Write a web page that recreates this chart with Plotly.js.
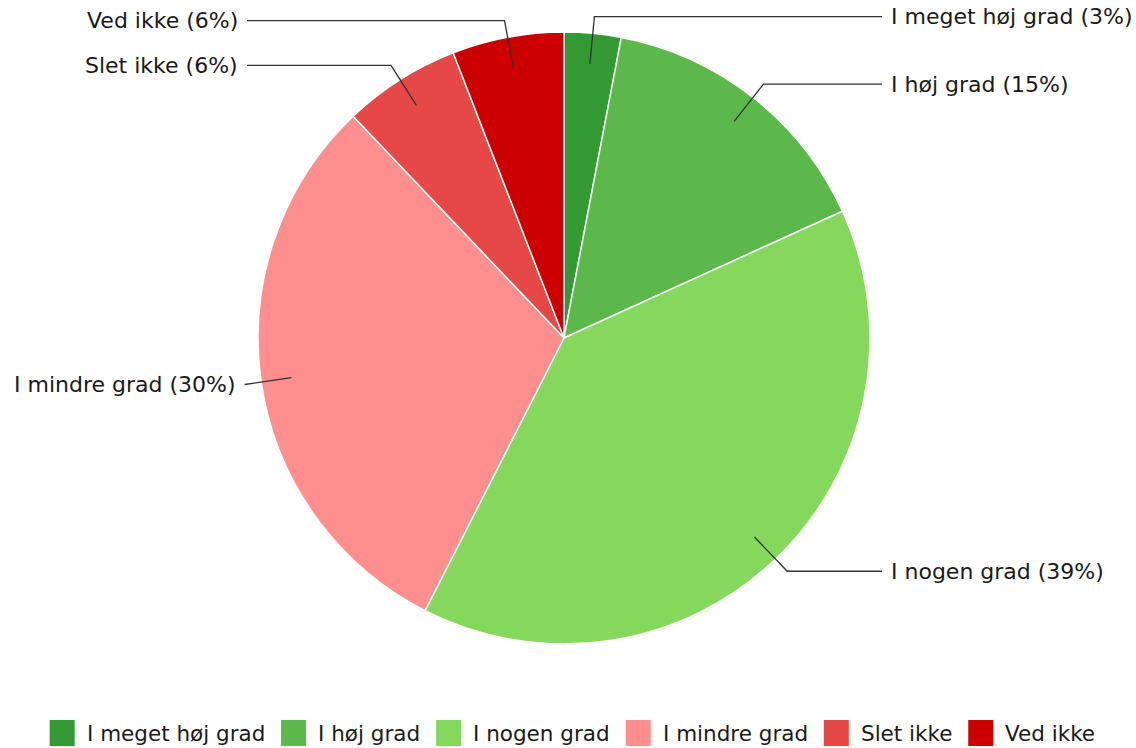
<!DOCTYPE html>
<html>
<head>
<meta charset="utf-8">
<script src="https://cdn.plot.ly/plotly-3.0.1.min.js"></script>
<style>
html,body{margin:0;padding:0;background:#fff;}
#chart{width:1136px;height:748px;}
</style>
</head>
<body>
<div id="chart"></div>
<script>
const categories = ["I meget høj grad", "I høj grad", "I nogen grad", "I mindre grad", "Slet ikke", "Ved ikke"];
const values = [3.0, 15.2, 39.3, 30.4, 6.2, 5.9];
const colors = ["#339933", "#5cb84a", "#84d95d", "#ff8f8f", "#e64848", "#cc0000"];

const W = 1136, H = 748;
const cx = 564, cy = 338, R = 306;
const FONT = "DejaVu Sans, Verdana, sans-serif";
const FS_LABEL = 22;
const FS = 21.5;

const px = x => x / W;
const py = y => 1 - y / H;

const total = values.reduce((a, b) => a + b, 0);

const trace = {
  type: "pie",
  labels: categories,
  values: values,
  marker: {colors: colors, line: {color: "#ffffff", width: 1.5}},
  sort: false,
  direction: "clockwise",
  rotation: 0,
  textinfo: "none",
  hoverinfo: "label+percent",
  showlegend: false,
  domain: {x: [px(cx - R), px(cx + R)], y: [py(cy + R), py(cy - R)]}
};

const shapes = [];
const annotations = [];
let cum = 0;
values.forEach((v, i) => {
  const frac = v / total;
  const mid = (cum + frac / 2) * 2 * Math.PI;
  cum += frac;
  const sx = cx + 0.9 * R * Math.sin(mid), sy = cy - 0.9 * R * Math.cos(mid);
  const ex = cx + 1.055 * R * Math.sin(mid), ey = cy - 1.055 * R * Math.cos(mid);
  const right = Math.sin(mid) >= 0;
  const endX = right ? Math.max(882, ex) : Math.min(247, ex);
  const path = `M${px(sx)},${py(sy)} L${px(ex)},${py(ey)} L${px(endX)},${py(ey)}`;
  shapes.push({type: "path", xref: "paper", yref: "paper", path: path,
               line: {color: "#333333", width: 1.3}});
  annotations.push({
    xref: "paper", yref: "paper",
    x: px(right ? endX + 7 : endX - 7), y: py(ey),
    xanchor: right ? "left" : "right", yanchor: "middle",
    text: `${categories[i]} (${Math.round(frac * 100)}%)`,
    showarrow: false,
    font: {family: FONT, size: FS_LABEL, color: "#1a1a1a"}
  });
});

// Custom legend (swatches + text), laid out from measured text widths
const ctx = document.createElement("canvas").getContext("2d");
ctx.font = `${FS}px DejaVu Sans`;
const SW = 25, GAP1 = 12, GAP2 = 16, legY = 733;
const widths = categories.map(c => ctx.measureText(c).width);
const totalW = widths.reduce((s, w) => s + SW + GAP1 + w, 0) + GAP2 * (categories.length - 1);
let lx = 572.5 - totalW / 2;
categories.forEach((c, i) => {
  shapes.push({type: "rect", xref: "paper", yref: "paper",
    x0: px(lx), x1: px(lx + SW), y0: py(legY + 13), y1: py(legY - 13),
    fillcolor: colors[i], line: {width: 0}});
  annotations.push({xref: "paper", yref: "paper", x: px(lx + SW + GAP1 - 2), y: py(legY),
    xanchor: "left", yanchor: "middle", text: c, showarrow: false,
    font: {family: FONT, size: FS, color: "#1a1a1a"}});
  lx += SW + GAP1 + widths[i] + GAP2;
});

const layout = {
  width: W, height: H,
  margin: {l: 0, r: 0, t: 0, b: 0},
  paper_bgcolor: "#ffffff",
  showlegend: false,
  shapes: shapes,
  annotations: annotations
};

Plotly.newPlot("chart", [trace], layout, {displayModeBar: false, staticPlot: true});
</script>
</body>
</html>
